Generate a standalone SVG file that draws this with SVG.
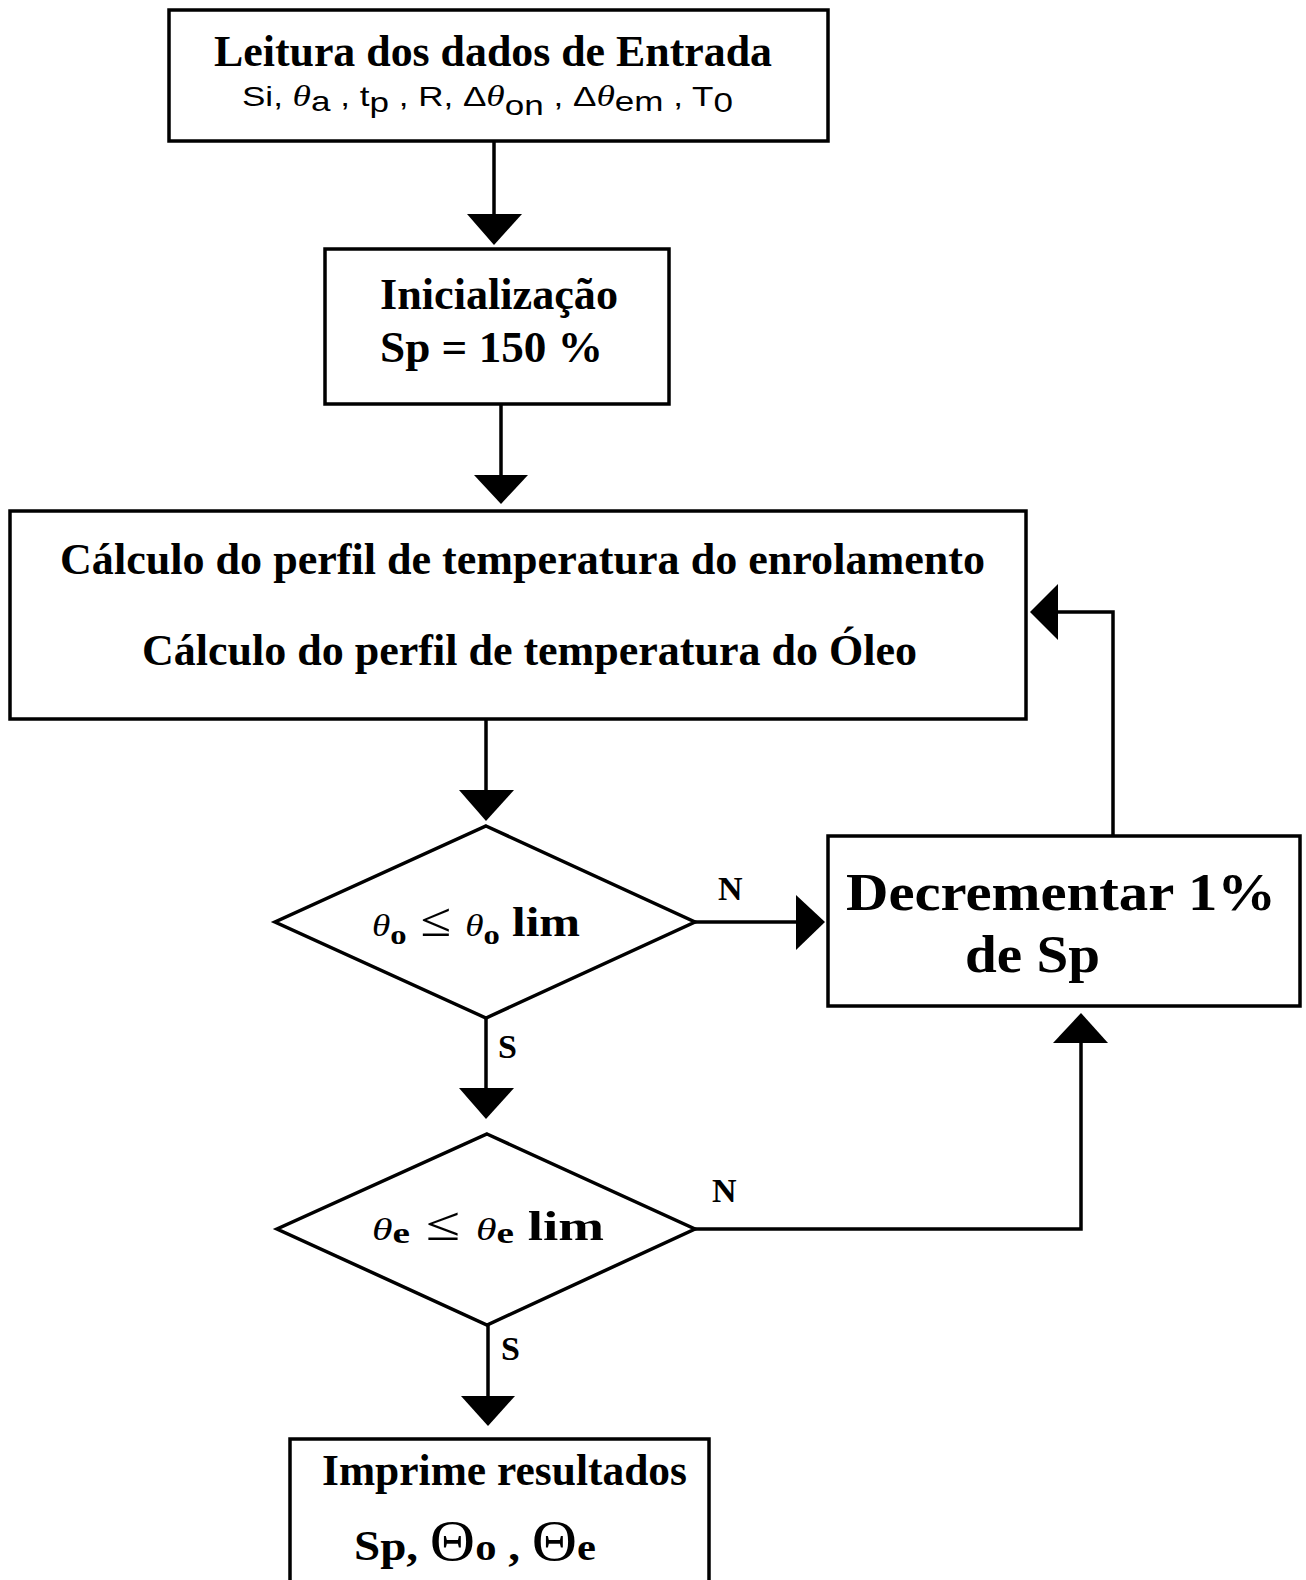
<svg xmlns="http://www.w3.org/2000/svg" width="1306" height="1580" viewBox="0 0 1306 1580">
<style>
.box{fill:#fff;stroke:#000;stroke-width:3.5}
.ln{fill:none;stroke:#000;stroke-width:3.5}
.hd{fill:#000;stroke:none}
.t{font-family:"Liberation Serif","Times New Roman",serif;font-weight:bold;fill:#000}
.s{font-family:"Liberation Sans",Arial,sans-serif;fill:#000}
.lbl{font-family:"Liberation Serif","Times New Roman",serif;font-weight:bold;font-size:34px;fill:#000}
</style>
<rect width="1306" height="1580" fill="#fff"/>
<g id="connectors">
<line class="ln" x1="494" y1="141" x2="494" y2="216"/>
<polygon class="hd" points="467,214 522,214 494,245"/>
<line class="ln" x1="501" y1="404" x2="501" y2="477"/>
<polygon class="hd" points="474,475 528,475 501,504"/>
<line class="ln" x1="486" y1="719" x2="486" y2="792"/>
<polygon class="hd" points="459,790 514,790 486,821"/>
<line class="ln" x1="695" y1="922" x2="798" y2="922"/>
<polygon class="hd" points="796,895 796,950 825,922"/>
<polyline class="ln" points="1113,836 1113,612 1056,612"/>
<polygon class="hd" points="1058,584 1058,640 1030,612"/>
<line class="ln" x1="486" y1="1018" x2="486" y2="1090"/>
<polygon class="hd" points="459,1088 514,1088 486,1119"/>
<polyline class="ln" points="695,1229 1081,1229 1081,1041"/>
<polygon class="hd" points="1053,1043 1108,1043 1081,1013"/>
<line class="ln" x1="488" y1="1325" x2="488" y2="1398"/>
<polygon class="hd" points="461,1396 515,1396 488,1426"/>
<text class="lbl" x="718" y="900">N</text>
<text class="lbl" x="498" y="1058">S</text>
<text class="lbl" x="712" y="1202">N</text>
<text class="lbl" x="501" y="1360">S</text>
</g>
<g id="n1">
<rect class="box" x="169" y="10" width="659" height="131"/>
<text class="t" x="214" y="66" font-size="44" textLength="558" lengthAdjust="spacingAndGlyphs">Leitura dos dados de Entrada</text>
<text class="s" x="242" y="106" font-size="28" textLength="491" lengthAdjust="spacingAndGlyphs">Si, <tspan font-family="Liberation Serif" font-style="italic" font-size="30">θ</tspan><tspan dy="5">a</tspan><tspan dy="-5"> , t</tspan><tspan dy="6">p</tspan><tspan dy="-6"> , R, Δ</tspan><tspan font-family="Liberation Serif" font-style="italic" font-size="30">θ</tspan><tspan dy="9">on</tspan><tspan dy="-9"> , Δ</tspan><tspan font-family="Liberation Serif" font-style="italic" font-size="30">θ</tspan><tspan dy="5">em</tspan><tspan dy="-5">  , T</tspan><tspan dy="6">0</tspan></text>
</g>
<g id="n2">
<rect class="box" x="325" y="249" width="344" height="155"/>
<text class="t" x="380" y="309" font-size="44" textLength="238" lengthAdjust="spacingAndGlyphs">Inicialização</text>
<text class="t" x="380" y="362" font-size="44" textLength="223" lengthAdjust="spacingAndGlyphs">Sp = 150 %</text>
</g>
<g id="n3">
<rect class="box" x="10" y="511" width="1016" height="208"/>
<text class="t" x="60" y="574" font-size="45" textLength="925" lengthAdjust="spacingAndGlyphs">Cálculo do perfil de temperatura do enrolamento</text>
<text class="t" x="142" y="665" font-size="45" textLength="775" lengthAdjust="spacingAndGlyphs">Cálculo do perfil de temperatura do Óleo</text>
</g>
<g id="n4">
<polygon class="box" points="486,826 695,922 486,1018 275,922"/>
<text class="t" x="372" y="936" font-size="42" textLength="208" lengthAdjust="spacingAndGlyphs"><tspan font-style="italic" font-weight="normal" font-size="32">θ</tspan><tspan font-size="28" dy="8">o</tspan><tspan dy="-8" font-weight="normal" font-size="48"> ≤ </tspan><tspan font-style="italic" font-weight="normal" font-size="32">θ</tspan><tspan font-size="28" dy="8">o</tspan><tspan dy="-8"> lim</tspan></text>
</g>
<g id="n5">
<rect class="box" x="828" y="836" width="472" height="170"/>
<text class="t" x="846" y="910" font-size="52" textLength="430" lengthAdjust="spacingAndGlyphs">Decrementar 1%</text>
<text class="t" x="965" y="972" font-size="52" textLength="135" lengthAdjust="spacingAndGlyphs">de Sp</text>
</g>
<g id="n6">
<polygon class="box" points="487,1134 695,1229 487,1325 277,1229"/>
<text class="t" x="372" y="1240" font-size="42" textLength="232" lengthAdjust="spacingAndGlyphs"><tspan font-style="italic" font-weight="normal" font-size="32">θ</tspan><tspan font-size="30" dy="3">e</tspan><tspan dy="-3" font-weight="normal" font-size="48">  ≤  </tspan><tspan font-style="italic" font-weight="normal" font-size="32">θ</tspan><tspan font-size="30" dy="3">e</tspan><tspan dy="-3"> lim</tspan></text>
</g>
<g id="n7">
<rect class="box" x="290" y="1439" width="419" height="170"/>
<text class="t" x="322" y="1485" font-size="44" textLength="365" lengthAdjust="spacingAndGlyphs">Imprime resultados</text>
<text class="t" x="354" y="1560" font-size="42" textLength="242" lengthAdjust="spacingAndGlyphs">Sp, <tspan font-weight="normal" font-size="56">Θ</tspan><tspan font-size="38">o</tspan> , <tspan font-weight="normal" font-size="56">Θ</tspan><tspan font-size="38">e</tspan></text>
</g>
</svg>
